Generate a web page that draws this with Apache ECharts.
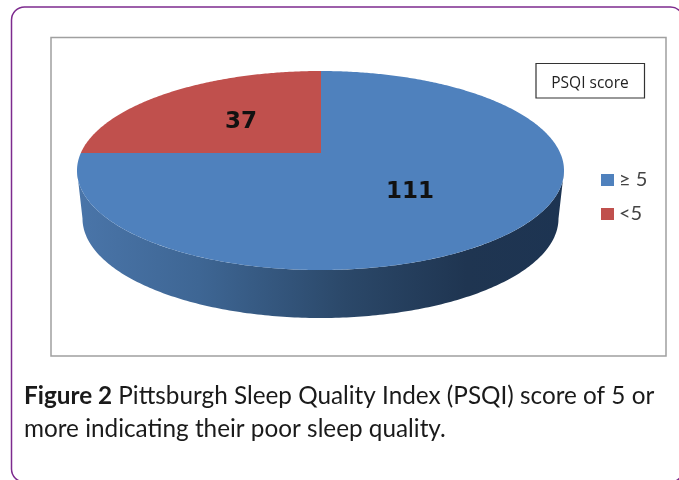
<!DOCTYPE html>
<html>
<head>
<meta charset="utf-8">
<style>html,body{margin:0;padding:0;background:#fff;overflow:hidden}#c{width:679px;height:480px}</style>
<script src="https://cdn.jsdelivr.net/npm/echarts@6/dist/echarts.min.js"></script>
</head>
<body>
<div id="c"></div>
<script>
const categories = ['≥ 5', '<5'];
const counts = [111, 37];
const colors = ['#4f81bd', '#c0504d'];
const labelFills = ['#111', '#111'];
const legendTitle = 'PSQI score';
const captionBold = 'Figure 2';
const captionLine1 = ' Pittsburgh Sleep Quality Index (PSQI) score of 5 or';
const captionLine2 = 'more indicating their poor sleep quality.';

const total = counts.reduce((a, b) => a + b, 0);
const cx = 320.5, cy = 170.5, rx = 243.5, ry = 99.5; // top face ellipse
const vx = 321, vy = 153;                            // perspective pie centre
const depth = 48;

function rim(theta) {
  const dx = Math.sin(theta) * rx, dy = -Math.cos(theta) * ry;
  const ox = vx - cx, oy = vy - cy;
  const A = dx * dx / (rx * rx) + dy * dy / (ry * ry);
  const B = 2 * (ox * dx / (rx * rx) + oy * dy / (ry * ry));
  const C = ox * ox / (rx * rx) + oy * oy / (ry * ry) - 1;
  const t = (-B + Math.sqrt(B * B - 4 * A * C)) / (2 * A);
  return [vx + dx * t, vy + dy * t];
}
function sector(a0, a1) {
  const pts = [[vx, vy]];
  const n = Math.max(8, Math.ceil((a1 - a0) / 0.01));
  for (let i = 0; i <= n; i++) pts.push(rim(a0 + (a1 - a0) * i / n));
  return pts;
}
function wall() {
  const pts = [];
  const lrx = 238, lcy = cy + depth;
  for (let i = 0; i <= 200; i++) {           // top face front edge, left to right
    const a = Math.PI - Math.PI * i / 200;
    pts.push([cx + rx * Math.cos(a), cy + ry * Math.sin(a)]);
  }
  for (let i = 0; i <= 200; i++) {           // lower edge, right to left
    const a = Math.PI * i / 200;
    pts.push([cx + lrx * Math.cos(a), lcy + ry * Math.sin(a)]);
  }
  return pts;
}
const wallFill = {
  type: 'linear', x: 77, y: 0, x2: 564, y2: 0, global: true,
  colorStops: [
    { offset: 0, color: '#4a75a9' },
    { offset: 0.25, color: '#3e6694' },
    { offset: 0.55, color: '#2b4869' },
    { offset: 0.8, color: '#1f3551' },
    { offset: 1, color: '#1d3452' }
  ]
};
const labelPos = [[410, 192], [241, 122]];

function makeSeries(idx) {
  const start = counts.slice(0, idx).reduce((a, b) => a + b, 0);
  return {
    type: 'custom',
    name: categories[idx],
    coordinateSystem: 'none',
    itemStyle: { color: colors[idx] },
    data: [[counts[idx]]],
    z: 2,
    renderItem: function (params, api) {
      const v = api.value(0);
      const a0 = start / total * 2 * Math.PI;
      const a1 = (start + v) / total * 2 * Math.PI;
      const children = [];
      if (idx === 0) {
        children.push({ type: 'polygon', shape: { points: wall() }, style: { fill: wallFill } });
      }
      children.push({ type: 'polygon', shape: { points: sector(a0, a1) }, style: { fill: colors[idx] } });
      children.push({
        type: 'text', z2: 10,
        style: {
          x: labelPos[idx][0], y: labelPos[idx][1], text: String(v), fill: labelFills[idx],
          font: 'bold 23px "DejaVu Sans"', align: 'center', verticalAlign: 'middle'
        }
      });
      return { type: 'group', children };
    }
  };
}

const chart = echarts.init(document.getElementById('c'), null, { renderer: 'canvas' });
chart.setOption({
  animation: false,
  backgroundColor: '#ffffff',
  legend: {
    orient: 'vertical', left: 596, top: 165, itemWidth: 13, itemHeight: 12, itemGap: 14,
    icon: 'rect', selectedMode: false,
    textStyle: { fontFamily: 'Lato', fontSize: 20, color: '#444', padding: [0, 0, 0, 0] },
    itemStyle: { borderWidth: 0 },
    data: categories
  },
  graphic: [
    { type: 'rect', z: 0, shape: { x: 11.5, y: 7, width: 672, height: 475, r: 13 },
      style: { fill: '#fff', stroke: '#7d2b8e', lineWidth: 1.5 } },
    { type: 'rect', z: 0, shape: { x: 51, y: 37.5, width: 615, height: 318.5 },
      style: { fill: '#fff', stroke: '#a0a0a0', lineWidth: 1.5 } },
    { type: 'rect', z: 1, shape: { x: 536, y: 63.5, width: 108.5, height: 34.5 },
      style: { fill: '#fff', stroke: '#333', lineWidth: 1.2 } },
    { type: 'text', z: 3, style: { x: 590, y: 84, text: legendTitle, fill: '#222',
        font: '15.5px "Open Sans"', align: 'center', verticalAlign: 'middle' } },
    { type: 'text', z: 3, style: { x: 24, y: 396, verticalAlign: 'middle', fill: '#1a1a1a',
        text: '{b|' + captionBold + '}{r|' + captionLine1 + '}',
        rich: { b: { font: 'bold 24.3px Lato', fill: '#1a1a1a' }, r: { font: '24.3px Lato', fill: '#1a1a1a' } } } },
    { type: 'text', z: 3, style: { x: 24, y: 429, verticalAlign: 'middle', fill: '#1a1a1a',
        text: captionLine2, font: '24.3px Lato' } }
  ],
  series: categories.map((_, i) => makeSeries(i))
});
</script>
</body>
</html>
